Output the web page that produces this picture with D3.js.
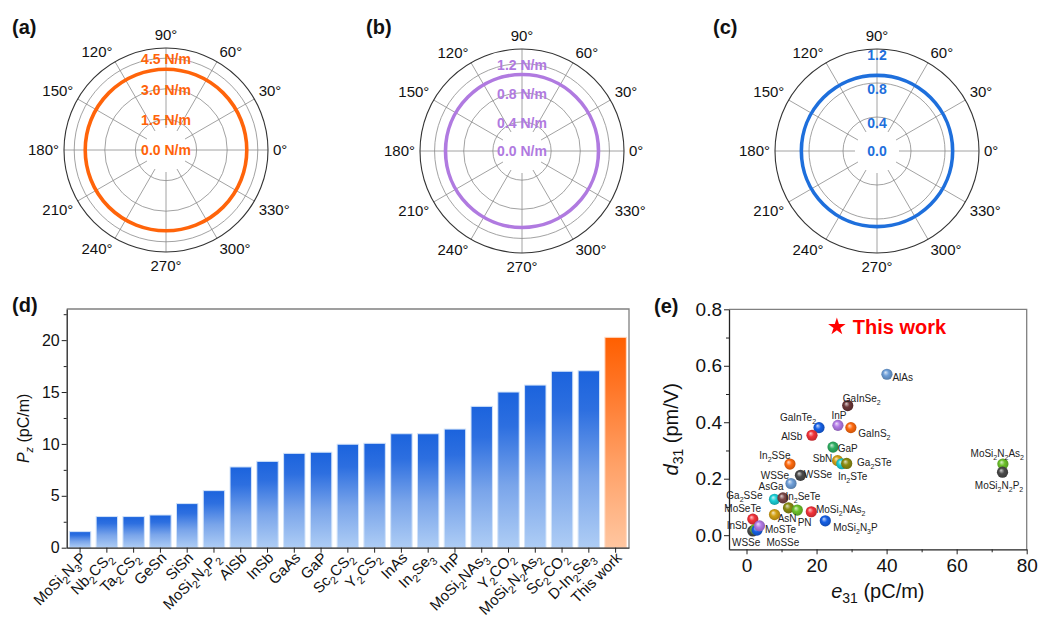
<!DOCTYPE html>
<html>
<head>
<meta charset="utf-8">
<script src="https://cdn.jsdelivr.net/npm/d3@7"></script>
<style>
  body { margin: 0; background: #fff; }
  svg { display: block; font-family: Arial, "Liberation Sans", Helvetica, sans-serif; }
</style>
</head>
<body>
<svg id="fig" width="1038" height="621"></svg>
<script>
// ---------- (a)-(c): angular dependence of the in-plane quantities ----------
const polarPanels = ["(a)", "(b)", "(c)"];
const polarValues = [3.96, 1.05, 0.89];
const polarMax = [5.0, 1.4, 1.2];
const polarTicks = [[0, 1.5, 3.0, 4.5], [0, 0.4, 0.8, 1.2], [0, 0.4, 0.8, 1.2]];
const polarUnits = [" N/m", " N/m", ""];
const angleTicks = [0, 30, 60, 90, 120, 150, 180, 210, 240, 270, 300, 330];

// ---------- (d): out-of-plane polarization ----------
const materials = ["MoSi{2}N{3}P", "Nb{2}CS{2}", "Ta{2}CS{2}", "GeSn", "SiSn", "MoSi{2}N{2}P{2}",
  "AlSb", "InSb", "GaAs", "GaP", "Sc{2}CS{2}", "Y{2}CS{2}", "InAs", "In{2}Se{3}", "InP",
  "MoSi{2}NAs{3}", "Y{2}CO{2}", "MoSi{2}N{2}As{2}", "Sc{2}CO{2}", "D-In{2}Se{3}", "This work"];
const polarization = [1.55, 3.0, 3.0, 3.15, 4.25, 5.5, 7.78, 8.32, 9.09, 9.2, 9.97, 10.06,
  10.98, 10.98, 11.43, 13.62, 15.0, 15.67, 17.0, 17.05, 20.27];
const pzTicks = [0, 5, 10, 15, 20];
const pzMinor = [2.5, 7.5, 12.5, 17.5, 22.5];

// ---------- (e): d31 versus e31 ----------
const sNames = ["AlAs", "GaInSe2", "GaInTe2", "InP", "GaInS2", "AlSb", "GaP", "SbN", "In2STe", "Ga2STe",
  "In2SSe", "WSSe", "WSSe", "Ga2SSe", "In2SeTe", "AsGa", "PN", "MoSi2NAs2", "MoSi2N3P", "AsN",
  "MoSeTe", "InSb", "WSSe", "MoSSe", "MoSTe", "MoSi2N2As2", "MoSi2N2P2"];
const sE31 = [40.1, 28.9, 20.7, 26.1, 29.8, 18.7, 24.7, 26.0, 27.2, 28.6,
  12.4, 15.4, 12.7, 8.0, 10.4, 12.0, 14.5, 18.5, 22.5, 8.0,
  1.8, 1.8, 2.6, 3.0, 3.7, 73.2, 73.1];
const sD31 = [0.570, 0.459, 0.381, 0.389, 0.381, 0.354, 0.312, 0.264, 0.253, 0.254,
  0.252, 0.212, 0.183, 0.127, 0.132, 0.097, 0.089, 0.083, 0.051, 0.073,
  0.057, 0.015, 0.021, 0.018, 0.033, 0.252, 0.223];
const sColorKeys = ["lightblue", "maroon", "blue", "purple", "orange", "red", "green", "gold", "cyan", "olive",
  "orange", "darkgray", "lightblue", "cyan", "brown", "olive", "lime", "red", "blue", "gold",
  "red", "darkgray", "lime", "blue", "purple", "lime", "darkgray"];
const labelTexts = ["AlAs", "GaInSe{2}", "GaInTe{2}", "InP", "GaInS{2}", "AlSb", "GaP", "In{2}SSe", "SbN",
  "Ga{2}STe", "WSSe", "WSSe", "In{2}STe", "MoSi{2}N{2}As{2}", "MoSi{2}N{2}P{2}", "MoSi{2}NAs{2}",
  "MoSi{2}N{3}P", "AsGa", "Ga{2}SSe", "In{2}SeTe", "MoSeTe", "AsN", "PN", "InSb", "MoSTe", "WSSe", "MoSSe"];
const labelE31 = [44.6, 32.9, 14.7, 26.4, 36.5, 12.9, 28.9, 8.1, 21.7, 36.5, 8.1, 20.4, 30.3,
  71.6, 72.1, 26.9, 31.1, 7.0, -0.6, 16.1, -1.1, 11.6, 16.6, -2.7, 9.7, -0.1, 10.4];
const labelD31 = [0.558, 0.485, 0.418, 0.423, 0.361, 0.349, 0.309, 0.281, 0.272, 0.259, 0.212, 0.215, 0.207,
  0.290, 0.177, 0.092, 0.027, 0.172, 0.140, 0.139, 0.095, 0.059, 0.047, 0.033, 0.020, -0.024, -0.024];
const thisWorkE31 = 25.8, thisWorkD31 = 0.738;
const e31Ticks = [0, 20, 40, 60, 80], e31Minor = [10, 30, 50, 70];
const d31Ticks = [0, 0.2, 0.4, 0.6, 0.8], d31Minor = [0.1, 0.3, 0.5, 0.7];

// ---------- styling ----------
const polarColors = ["#ff640a", "#b07ae0", "#1e6fdc"];
const ballColors = {
  lightblue: "#6d9ed8", maroon: "#6b3636", brown: "#7b4747", blue: "#1560e6", purple: "#b27ae6",
  orange: "#ff6a0e", red: "#f2333a", green: "#2fae62", gold: "#d3a114", cyan: "#1bcfd6",
  olive: "#8c8c12", darkgray: "#4a4a4a", lime: "#6cc12a"
};
const axisColor = "#222", frameColor = "#808080", gridColor = "#8a8a8a";

const svg = d3.select("#fig");
const defs = svg.append("defs");

// text with "{..}" runs rendered as subscripts
function rich(sel, str, subScale = 0.7, shift = 0.3) {
  const fs = parseFloat(sel.attr("font-size"));
  const off = fs * shift;
  let down = false;
  str.split(/(\{[^}]*\})/).filter(s => s.length).forEach(p => {
    const sub = p[0] === "{";
    const t = sel.append("tspan").text(sub ? p.slice(1, -1) : p);
    if (sub) {
      t.attr("font-size", fs * subScale);
      if (!down) { t.attr("dy", off); down = true; }
    } else if (down) { t.attr("dy", -off); down = false; }
  });
  return sel;
}

function panelLabel(text, x, y) {
  svg.append("text").attr("x", x).attr("y", y).attr("font-size", 20).attr("font-weight", "bold")
    .attr("fill", "#111").text(text);
}

// ================= polar panels =================
const polarCenters = [[166, 150], [522, 151], [877, 151]];
const polarLabelDrop = [1, 1, 6];
const R = 102;
polarPanels.forEach((lab, i) => {
  const [cx, cy] = polarCenters[i];
  const g = svg.append("g").attr("transform", `translate(${cx},${cy})`);
  const r = d3.scaleLinear().domain([0, polarMax[i]]).range([0, R]);

  g.selectAll("circle.grid").data(polarTicks[i].filter(v => v > 0 && r(v) < R - 1)).join("circle")
    .attr("class", "grid").attr("r", d => r(d)).attr("fill", "none")
    .attr("stroke", gridColor).attr("stroke-width", 0.8);

  g.selectAll("line.spoke").data(angleTicks).join("line").attr("class", "spoke")
    .attr("x1", d => 22 * Math.cos(d * Math.PI / 180)).attr("y1", d => -22 * Math.sin(d * Math.PI / 180))
    .attr("x2", d => R * Math.cos(d * Math.PI / 180)).attr("y2", d => -R * Math.sin(d * Math.PI / 180))
    .attr("stroke", gridColor).attr("stroke-width", 0.8);

  g.append("circle").attr("r", R).attr("fill", "none").attr("stroke", "#333").attr("stroke-width", 1.1);

  g.append("circle").attr("r", r(polarValues[i])).attr("fill", "none")
    .attr("stroke", polarColors[i]).attr("stroke-width", 3.6);

  g.selectAll("text.rad").data(polarTicks[i]).join("text").attr("class", "rad")
    .attr("x", 0).attr("y", d => -r(d) + (d === 0 ? 0 : polarLabelDrop[i]))
    .attr("dy", "0.36em").attr("text-anchor", "middle")
    .attr("font-size", 14).attr("font-weight", "bold").attr("fill", polarColors[i])
    .text(d => d.toFixed(1) + polarUnits[i]);

  g.selectAll("text.ang").data(angleTicks).join("text").attr("class", "ang")
    .each(function (d) {
      const a = d * Math.PI / 180, c = Math.cos(a), s = Math.sin(a);
      const rr = Math.abs(c) < 0.01 ? R + 8 : R + 5;
      d3.select(this).attr("x", rr * c).attr("y", -rr * s)
        .attr("text-anchor", c > 0.01 ? "start" : (c < -0.01 ? "end" : "middle"))
        .attr("dy", s > 0.01 ? "-0.02em" : (s < -0.01 ? "0.74em" : "0.36em"));
    })
    .attr("font-size", 15).attr("fill", "#111").text(d => d + "\u00b0");

  panelLabel(lab, [12, 366, 713][i], 34);
});

// ================= (d) bar chart =================
const dL = 66.7, dR = 629, dT = 309, dB = 547.7;
const xb = d3.scaleBand().domain(materials).range([dL, dR]).paddingInner(0.2).paddingOuter(0.1);
const yb = d3.scaleLinear().domain([0, 23]).range([dB, dT]);

function vGrad(id, stops) {
  const lg = defs.append("linearGradient").attr("id", id).attr("x1", 0).attr("y1", 0).attr("x2", 0).attr("y2", 1);
  stops.forEach(([o, c]) => lg.append("stop").attr("offset", o).attr("stop-color", c));
}
vGrad("barBlue", [[0, "#1b63dd"], [0.22, "#2d6fe0"], [0.6, "#7aa5ea"], [1, "#aecdf5"]]);
vGrad("barOrange", [[0, "#ff5f00"], [0.22, "#ff7424"], [0.6, "#ffa066"], [1, "#ffc6a0"]]);

const gd = svg.append("g");
gd.selectAll("rect.bar").data(materials).join("rect").attr("class", "bar")
  .attr("x", d => xb(d)).attr("width", xb.bandwidth())
  .attr("y", (d, i) => yb(polarization[i])).attr("height", (d, i) => yb(0) - yb(polarization[i]))
  .attr("fill", (d, i) => i === materials.length - 1 ? "url(#barOrange)" : "url(#barBlue)")
  .attr("stroke", (d, i) => i === materials.length - 1 ? "#ffd9c2" : "#d2e3f9").attr("stroke-width", 1);

// frame
gd.append("path").attr("d", `M${dL},${dT}H${dR}V${dB}`).attr("fill", "none").attr("stroke", frameColor).attr("stroke-width", 1.3);

const yAxisD = gd.append("g").attr("transform", `translate(${dL},0)`)
  .call(d3.axisLeft(yb).tickValues(pzTicks).tickFormat(d3.format("d")).tickSize(5).tickSizeOuter(0));
gd.append("g").attr("transform", `translate(${dL},0)`)
  .call(d3.axisLeft(yb).tickValues(pzMinor).tickFormat("").tickSize(3).tickSizeOuter(0))
  .select(".domain").remove();
const xAxisD = gd.append("g").attr("transform", `translate(0,${dB})`)
  .call(d3.axisBottom(xb).tickSize(5).tickSizeOuter(0).tickFormat(""));
[yAxisD, xAxisD].forEach(a => {
  a.select(".domain").attr("stroke", axisColor).attr("stroke-width", 1.3);
});
gd.selectAll(".tick line").attr("stroke", axisColor);
yAxisD.selectAll(".tick text").attr("font-size", 16).attr("fill", "#111").attr("font-family", null).attr("x", -7);

// rotated category labels
gd.selectAll("text.cat").data(materials).join("text").attr("class", "cat")
  .attr("transform", d => `translate(${xb(d) + xb.bandwidth() / 2 + 7},${dB + 11}) rotate(-45)`)
  .attr("text-anchor", "end").attr("font-size", 15).attr("fill", "#111")
  .each(function (d) { rich(d3.select(this), d, 0.72, 0.28); });

// y title
const ytD = gd.append("text").attr("transform", `translate(${dL - 38},${(dT + dB) / 2}) rotate(-90)`)
  .attr("text-anchor", "middle").attr("font-size", 16).attr("fill", "#111");
ytD.append("tspan").attr("font-style", "italic").text("P");
ytD.append("tspan").attr("font-style", "italic").attr("font-size", 11).attr("dy", 4).text("z");
ytD.append("tspan").attr("dy", -4).text(" (pC/m)");

panelLabel("(d)", 12, 312);

// ================= (e) scatter =================
const eL = 729, eR = 1026.7, eT = 309.3, eB = 549.3;
const xs = d3.scaleLinear().domain([-5, 80]).range([eL, eR]);
const ys = d3.scaleLinear().domain([-0.05, 0.8]).range([eB, eT]);
const ge = svg.append("g");

ge.append("path").attr("d", `M${eL},${eT}H${eR}V${eB}`).attr("fill", "none").attr("stroke", frameColor).attr("stroke-width", 1.3);
const yAxisE = ge.append("g").attr("transform", `translate(${eL},0)`)
  .call(d3.axisLeft(ys).tickValues(d31Ticks).tickFormat(d3.format(".1f")).tickSize(5).tickSizeOuter(0));
ge.append("g").attr("transform", `translate(${eL},0)`)
  .call(d3.axisLeft(ys).tickValues(d31Minor).tickFormat("").tickSize(3).tickSizeOuter(0))
  .select(".domain").remove();
const xAxisE = ge.append("g").attr("transform", `translate(0,${eB})`)
  .call(d3.axisBottom(xs).tickValues(e31Ticks).tickFormat(d3.format("d")).tickSize(5).tickSizeOuter(0));
ge.append("g").attr("transform", `translate(0,${eB})`)
  .call(d3.axisBottom(xs).tickValues(e31Minor).tickFormat("").tickSize(3).tickSizeOuter(0))
  .select(".domain").remove();
[yAxisE, xAxisE].forEach(a => a.select(".domain").attr("stroke", axisColor).attr("stroke-width", 1.3));
ge.selectAll(".tick line").attr("stroke", axisColor);
yAxisE.selectAll(".tick text").attr("font-size", 19).attr("fill", "#111").attr("font-family", null).attr("x", -7);
xAxisE.selectAll(".tick text").attr("font-size", 19).attr("fill", "#111").attr("font-family", null).attr("y", 9);

// shaded sphere gradients
Object.entries(ballColors).forEach(([k, c]) => {
  const rg = defs.append("radialGradient").attr("id", "ball-" + k)
    .attr("cx", "0.5").attr("cy", "0.5").attr("r", "0.55").attr("fx", "0.36").attr("fy", "0.32");
  rg.append("stop").attr("offset", 0).attr("stop-color", d3.interpolateRgb(c, "#fff")(0.75));
  rg.append("stop").attr("offset", 0.45).attr("stop-color", c);
  rg.append("stop").attr("offset", 1).attr("stop-color", d3.color(c).darker(0.8));
});

ge.selectAll("circle.pt").data(sNames).join("circle").attr("class", "pt")
  .attr("cx", (d, i) => xs(sE31[i])).attr("cy", (d, i) => ys(sD31[i])).attr("r", 5.6)
  .attr("fill", (d, i) => `url(#ball-${sColorKeys[i]})`);

ge.selectAll("text.lbl").data(labelTexts).join("text").attr("class", "lbl")
  .attr("x", (d, i) => xs(labelE31[i])).attr("y", (d, i) => ys(labelD31[i]))
  .attr("dy", "0.36em").attr("text-anchor", "middle").attr("font-size", 10).attr("fill", "#222")
  .each(function (d) { rich(d3.select(this), d, 0.7, 0.3); });

// this work
ge.append("path").attr("d", d3.symbol(d3.symbolStar, 95)())
  .attr("transform", `translate(${xs(thisWorkE31)},${ys(thisWorkD31)})`).attr("fill", "#ff0000");
ge.append("text").attr("x", xs(thisWorkE31) + 16).attr("y", ys(thisWorkD31)).attr("dy", "0.38em")
  .attr("font-size", 20).attr("font-weight", "bold").attr("fill", "#ff0000").text("This work");

// axis titles
const xtE = ge.append("text").attr("x", (eL + eR) / 2).attr("y", 598).attr("text-anchor", "middle")
  .attr("font-size", 20).attr("fill", "#111");
xtE.append("tspan").attr("font-style", "italic").text("e");
xtE.append("tspan").attr("font-size", 14).attr("dy", 5).text("31");
xtE.append("tspan").attr("dy", -5).text(" (pC/m)");

const ytE = ge.append("text").attr("transform", `translate(${eL - 51},${(eT + eB) / 2}) rotate(-90)`)
  .attr("text-anchor", "middle").attr("font-size", 20).attr("fill", "#111");
ytE.append("tspan").attr("font-style", "italic").text("d");
ytE.append("tspan").attr("font-size", 14).attr("dy", 5).text("31");
ytE.append("tspan").attr("dy", -5).text(" (pm/V)");

panelLabel("(e)", 654, 313);
</script>
</body>
</html>
